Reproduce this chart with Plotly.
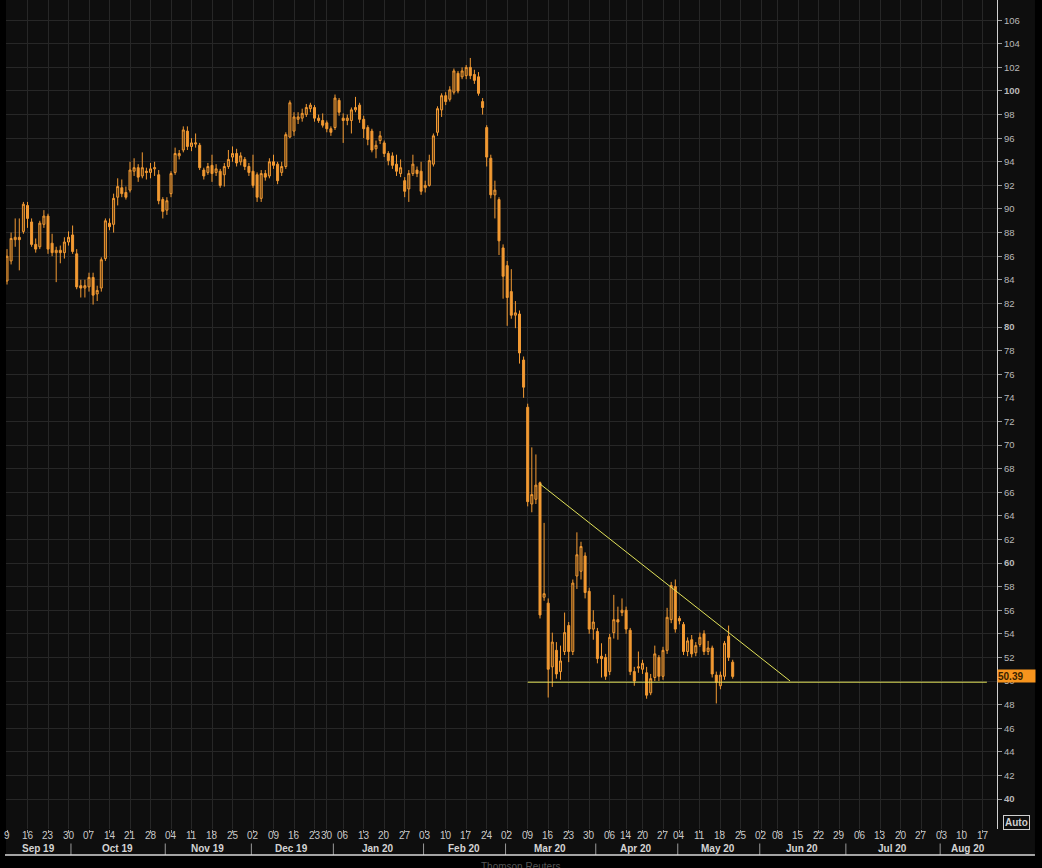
import pandas as pd
import plotly.graph_objects as go

# ---------------- data ----------------
holidays = ["2019-12-25", "2019-12-26", "2020-01-01", "2020-04-10",
            "2020-04-13", "2020-05-01", "2020-06-01"]
calendar_start = "2019-09-09"
calendar_end = "2020-08-21"

open_ = [83.9, 85.6, 87.4, 87.6, 88.1, 90.3, 88.9, 87.0, 86.8, 88.7,
         89.4, 87.1, 86.3, 86.5, 86.3, 87.2, 87.8, 86.2, 83.5, 83.3,
         83.4, 84.2, 82.8, 83.3, 85.8, 88.8, 88.7, 91.0, 91.8, 91.4,
         91.6, 93.2, 93.5, 92.8, 93.2, 93.1, 93.4, 92.9, 90.8, 89.9,
         91.3, 93.1, 94.5, 95.0, 96.6, 95.3, 95.5, 95.4, 93.3, 93.1,
         93.7, 93.1, 93.2, 92.9, 93.6, 94.4, 94.7, 94.0, 94.2, 93.6,
         93.2, 92.9, 90.9, 93.0, 92.8, 94.0, 93.8, 93.1, 93.6, 96.1,
         96.6, 97.6, 97.7, 98.0, 98.5, 98.6, 97.7, 97.5, 97.3, 96.8,
         96.9, 99.2, 97.7, 97.5, 97.5, 98.4, 98.8, 97.6, 96.9, 96.6,
         95.1, 95.8, 95.6, 94.7, 94.5, 93.8, 93.0, 92.4, 91.7, 93.0,
         93.3, 93.2, 91.8, 92.0, 93.8, 96.5, 98.4, 99.6, 99.3, 99.9,
         101.5, 101.2, 101.3, 102.0, 101.4, 101.2, 99.1, 96.9, 94.3, 91.2,
         90.8, 86.7, 85.2, 83.0, 81.0, 81.1, 77.2, 73.2, 65.0, 65.4,
         66.8, 57.1, 56.6, 51.2, 52.6, 50.8, 52.5, 54.7, 52.5, 58.9,
         59.3, 60.6, 57.6, 54.4, 54.2, 52.1, 52.0, 50.8, 54.1, 55.2,
         55.8, 56.0, 54.3, 50.8, 51.1, 51.0, 50.7, 49.0, 50.3, 52.0,
         50.4, 52.6, 55.2, 58.0, 55.3, 54.8, 52.5, 53.5, 52.4, 53.1,
         54.0, 52.5, 52.8, 50.5, 49.6, 50.4, 53.8, 51.6]
high = [86.6, 88.0, 89.2, 89.2, 90.6, 90.6, 89.2, 87.5, 89.0, 89.9,
        89.6, 87.9, 86.8, 86.9, 87.6, 88.1, 88.6, 86.6, 84.0, 84.0,
        84.6, 84.6, 83.5, 85.9, 89.2, 89.2, 91.3, 92.6, 92.5, 91.9,
        94.0, 94.3, 93.8, 94.8, 93.5, 93.9, 94.0, 93.3, 91.0, 91.0,
        93.2, 95.2, 95.0, 97.0, 97.0, 96.0, 96.4, 95.6, 93.5, 93.9,
        94.6, 93.8, 93.4, 93.9, 95.0, 95.3, 95.1, 94.8, 94.4, 93.9,
        94.6, 93.1, 93.3, 93.3, 94.3, 94.6, 94.0, 94.0, 96.5, 99.2,
        98.2, 98.2, 98.5, 98.9, 99.0, 98.8, 98.0, 98.1, 97.5, 97.0,
        99.7, 99.4, 98.1, 98.0, 98.6, 99.5, 99.0, 97.9, 97.1, 96.8,
        95.8, 96.6, 95.8, 94.9, 94.8, 94.6, 94.2, 92.7, 93.3, 94.6,
        93.6, 94.0, 92.4, 94.6, 96.4, 98.7, 99.8, 99.9, 100.4, 101.9,
        101.7, 102.0, 102.2, 102.8, 101.8, 101.6, 99.4, 97.1, 94.6, 92.4,
        91.0, 87.0, 85.6, 84.9, 82.2, 81.4, 77.5, 73.5, 69.8, 69.2,
        66.9, 63.4, 57.0, 54.1, 53.3, 53.0, 55.8, 55.0, 58.6, 62.6,
        61.8, 60.9, 57.9, 56.0, 54.5, 53.2, 52.3, 54.0, 57.3, 56.3,
        57.0, 56.3, 54.5, 51.2, 52.5, 51.8, 51.2, 50.6, 53.0, 52.2,
        52.9, 56.2, 58.4, 58.6, 55.5, 55.0, 53.7, 53.9, 53.3, 54.1,
        54.3, 53.4, 53.0, 50.8, 50.8, 53.4, 54.7, 51.8]
low = [83.6, 85.3, 86.8, 84.8, 87.9, 88.4, 86.8, 86.3, 86.6, 88.4,
       86.2, 86.0, 83.8, 85.4, 85.8, 86.9, 86.2, 83.2, 82.5, 82.5,
       83.0, 81.9, 82.2, 83.0, 85.6, 88.2, 88.0, 90.3, 91.0, 90.8,
       91.4, 92.8, 92.3, 92.6, 92.5, 92.6, 92.8, 90.4, 89.2, 89.5,
       91.0, 92.9, 94.2, 94.8, 95.0, 94.9, 95.2, 93.3, 92.5, 92.9,
       92.3, 92.8, 91.8, 91.9, 93.4, 94.0, 93.6, 93.7, 93.3, 92.8,
       91.8, 90.6, 90.6, 92.4, 92.6, 93.4, 92.1, 92.8, 93.4, 96.0,
       96.2, 97.2, 97.4, 97.8, 98.2, 97.4, 97.3, 96.9, 96.5, 96.2,
       96.7, 97.9, 95.6, 97.1, 96.4, 98.2, 97.3, 96.0, 95.4, 94.8,
       94.3, 95.5, 94.4, 93.7, 93.4, 92.8, 92.7, 91.0, 90.6, 92.8,
       92.7, 91.2, 91.4, 91.9, 93.6, 96.2, 97.8, 98.8, 99.1, 99.7,
       99.8, 101.0, 101.0, 101.0, 100.6, 99.6, 98.0, 93.6, 90.9, 89.2,
       86.1, 82.4, 80.1, 80.7, 79.9, 76.9, 74.0, 64.8, 64.3, 65.0,
       55.3, 56.8, 48.6, 49.5, 50.2, 50.1, 52.2, 51.6, 52.2, 57.8,
       58.6, 57.0, 54.0, 53.5, 51.5, 50.3, 50.1, 50.5, 53.6, 53.5,
       55.5, 54.0, 50.5, 49.6, 50.7, 50.6, 48.5, 48.8, 50.0, 50.0,
       50.1, 52.3, 54.9, 54.1, 54.8, 52.2, 52.1, 52.0, 52.1, 52.9,
       52.2, 52.2, 50.3, 48.1, 49.3, 50.1, 51.7, 50.2]
close = [86.0, 87.5, 87.6, 87.4, 90.4, 89.2, 87.0, 86.6, 88.8, 89.4,
         86.6, 86.3, 86.5, 86.3, 87.2, 87.6, 86.4, 83.4, 83.3, 83.5,
         84.2, 82.7, 83.1, 85.7, 89.0, 88.5, 90.9, 91.9, 91.3, 91.0,
         93.3, 93.5, 92.7, 93.5, 93.1, 93.4, 93.5, 90.7, 89.8, 90.7,
         93.0, 94.7, 94.7, 96.7, 95.3, 95.6, 95.6, 93.5, 92.8, 93.6,
         93.0, 93.4, 92.0, 93.6, 94.2, 94.7, 93.9, 94.5, 93.6, 93.1,
         92.0, 91.0, 93.0, 92.7, 94.0, 93.7, 92.4, 93.6, 96.3, 99.0,
         97.8, 97.8, 98.1, 98.6, 98.8, 97.7, 97.5, 97.1, 96.8, 96.5,
         99.4, 98.2, 97.5, 97.7, 98.4, 98.6, 97.6, 96.8, 95.9, 95.0,
         95.4, 96.2, 94.7, 94.1, 93.7, 93.2, 93.5, 91.5, 93.0, 93.8,
         93.0, 91.5, 92.0, 94.1, 96.2, 98.5, 99.6, 99.1, 100.1, 101.7,
         100.0, 101.7, 102.0, 101.3, 100.9, 99.8, 98.6, 94.4, 91.2, 91.6,
         87.3, 84.3, 82.5, 81.0, 81.2, 77.8, 74.9, 65.2, 65.8, 66.6,
         55.6, 57.4, 51.0, 53.3, 50.6, 51.7, 54.1, 52.5, 58.3, 60.7,
         61.4, 57.5, 54.4, 55.0, 51.9, 51.9, 50.4, 53.7, 55.2, 55.0,
         56.0, 54.4, 50.8, 50.0, 51.2, 51.5, 48.8, 50.2, 52.3, 50.4,
         52.6, 55.4, 58.1, 54.4, 55.1, 52.5, 53.4, 52.3, 53.0, 53.7,
         52.5, 52.8, 50.6, 49.9, 50.5, 53.2, 52.0, 50.39]

last_price = 50.39
support_dates = ["2020-03-09", "2020-08-18"]
support_values = [49.9, 49.9]
resistance_dates = ["2020-03-12", "2020-06-11"]
resistance_values = [66.7, 50.0]
y_ticks = list(range(40, 108, 2))
source_text = "Thomson Reuters"

# ---------------- styles ----------------
ORANGE = "#f39a33"
GRID = "#272727"
BG = "#0e0e0e"
TRIANGLE = "#e2e25a"
FONT = "Liberation Sans"

cal = pd.bdate_range(calendar_start, calendar_end)
cal = cal[~cal.isin(pd.to_datetime(holidays))]
n = len(close)
xi = list(range(n))
dates = [d.strftime("%d %b %Y") for d in cal[:n]]

def pos(d):
    return int(cal.get_loc(pd.Timestamp(d)))

# weekly ticks: first trading day of each week
tickvals, ticktext = [], []
prev_week = None
for i, d in enumerate(cal):
    wk = d.isocalendar()[:2]
    if wk != prev_week:
        tickvals.append(i)
        ticktext.append(d.strftime("%d") if i > 0 else str(d.day))
    prev_week = wk

PX_PER_DAY = 4.1
PLOT_W = 991
x_lo = -1.0 / PX_PER_DAY
x_hi = x_lo + PLOT_W / PX_PER_DAY
y_lo, y_hi = 37.46, 107.71

fig = go.Figure()
fig.add_trace(go.Candlestick(
    x=xi, open=open_, high=high, low=low, close=close, text=dates,
    increasing=dict(line=dict(color=ORANGE, width=1), fillcolor="rgba(150,95,30,0.55)"),
    decreasing=dict(line=dict(color=ORANGE, width=1), fillcolor=ORANGE),
    whiskerwidth=0, showlegend=False, hoverinfo="x+y+text"))

fig.add_trace(go.Scatter(x=[pos(d) for d in support_dates], y=support_values,
                         mode="lines", line=dict(color=TRIANGLE, width=1),
                         showlegend=False, hoverinfo="skip"))
fig.add_trace(go.Scatter(x=[pos(d) for d in resistance_dates], y=resistance_values,
                         mode="lines", line=dict(color=TRIANGLE, width=1),
                         showlegend=False, hoverinfo="skip"))

annotations = []
shapes = []

# day labels (weekly) below the plot
for v, t in zip(tickvals, ticktext):
    annotations.append(dict(x=v, y=-0.0084, xref="x", yref="paper", text=t,
                            showarrow=False, xanchor="center", yanchor="middle",
                            font=dict(family=FONT, size=10, color="#c8c8c8")))

# month labels + separators
months = sorted(set((d.year, d.month) for d in cal))
for (yr, mo) in months:
    ids = [i for i, d in enumerate(cal) if d.year == yr and d.month == mo]
    a = max(ids[0] - 0.5, x_lo)
    b = min(ids[-1] + 0.5, x_hi)
    label = pd.Timestamp(year=yr, month=mo, day=1).strftime("%b %y")
    annotations.append(dict(x=(a + b) / 2, y=-0.0241, xref="x", yref="paper",
                            text="<b>%s</b>" % label, showarrow=False,
                            font=dict(family=FONT, size=10, color="#d4d4d4"),
                            xanchor="center", yanchor="middle"))
    if ids[0] > 0:
        shapes.append(dict(type="line", xref="x", yref="paper",
                           x0=ids[0] - 0.4, x1=ids[0] - 0.4, y0=-0.0175, y1=-0.0314,
                           line=dict(color="#9a9a9a", width=1)))

# frame pieces
shapes += [
    dict(type="rect", xref="paper", yref="paper", x0=-0.01, x1=0, y0=-0.06, y1=1.01,
         fillcolor="#000000", line=dict(width=0), layer="below"),
    dict(type="rect", xref="paper", yref="paper", x0=1.0383, x1=1.06, y0=-0.06, y1=1.01,
         fillcolor="#000000", line=dict(width=0), layer="below"),
    dict(type="rect", xref="paper", yref="paper", x0=-0.01, x1=1.06, y0=-0.06, y1=-0.0314,
         fillcolor="#000000", line=dict(width=0), layer="below"),
    dict(type="line", xref="paper", yref="paper", x0=-0.001, x1=1.0383, y0=-0.0314, y1=-0.0314,
         line=dict(color="#d8d8d8", width=1.5)),
]

annotations += [
    dict(x=1.0, y=last_price, xref="paper", yref="y", text="<b>%.2f</b>" % last_price,
         showarrow=False, xanchor="left", yanchor="middle", align="left",
         bgcolor="#f7941d", borderpad=0, width=37, height=12,
         font=dict(family=FONT, size=10, color="#3a1f00")),
    dict(x=1.0192, y=0.0084, xref="paper", yref="paper", text="<b>Auto</b>",
         showarrow=False, xanchor="center", yanchor="middle",
         bordercolor="#cfcfcf", borderwidth=1, borderpad=1,
         font=dict(family=FONT, size=10, color="#cfcfcf")),
    dict(x=0.5187, y=-0.0362, xref="paper", yref="paper", text=source_text,
         showarrow=False, xanchor="center", yanchor="top",
         font=dict(family=FONT, size=10, color="#555555")),
]

ytext = ["<b>%d</b>" % v if v % 20 == 0 else str(v) for v in y_ticks]

fig.update_layout(
    width=1042, height=868,
    margin=dict(l=6, r=45, t=0, b=39, pad=0, autoexpand=False),
    paper_bgcolor=BG, plot_bgcolor=BG,
    shapes=shapes, annotations=annotations,
    xaxis=dict(range=[x_lo, x_hi], tickmode="array", tickvals=tickvals, ticktext=ticktext,
               showticklabels=False, automargin=False,
               showgrid=True, gridcolor=GRID, gridwidth=1, zeroline=False,
               ticks="outside", ticklen=3, tickcolor="#9a9a9a",
               rangeslider=dict(visible=False), showline=False, fixedrange=True),
    yaxis=dict(range=[y_lo, y_hi], side="right", tickmode="array", tickvals=y_ticks,
               ticktext=ytext, automargin=False,
               showgrid=True, gridcolor=GRID, gridwidth=1, zeroline=False,
               ticks="outside", ticklen=4, tickcolor="#9a9a9a",
               tickfont=dict(family=FONT, size=9.5, color="#b8b8b8"),
               showline=True, linecolor="#d0d0d0", linewidth=1, fixedrange=True),
    hovermode="closest",
)

fig.write_html("out.html", config={"displayModeBar": False},
               post_script="document.body.style.margin='0px';document.body.style.overflow='hidden';document.body.style.background='#000';")
